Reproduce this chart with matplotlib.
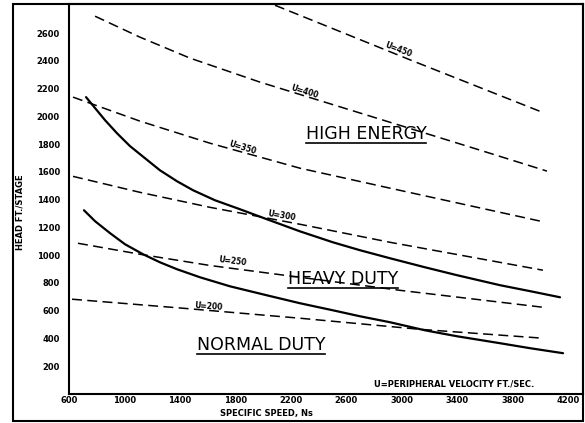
import matplotlib
matplotlib.use("Agg")
import matplotlib.pyplot as plt
from matplotlib.patches import Rectangle
from matplotlib.lines import Line2D

plt.rcParams['font.family'] = ['DejaVu Sans']

# ---- data ----
heavy_x = [723, 788, 860, 946, 1040, 1148, 1256, 1379, 1495, 1653, 1834, 2028,
           2266, 2504, 2699, 2916, 3168, 3399, 3709, 3926, 4142]
heavy_y = [2139, 2060, 1973, 1879, 1786, 1699, 1612, 1533, 1468, 1396, 1331, 1259,
           1172, 1093, 1036, 978, 913, 856, 784, 741, 697]

normal_x = [708, 788, 896, 1004, 1134, 1256, 1379, 1545, 1761, 2028, 2266, 2504,
            2699, 2916, 3168, 3399, 3709, 3926, 4164]
normal_y = [1324, 1245, 1159, 1079, 1007, 949, 899, 841, 776, 711, 654, 603,
            560, 517, 459, 416, 366, 330, 294]

u450_x = [2086, 3067, 4012]
u450_y = [2801, 2405, 2031]

u400_x = [788, 1112, 1473, 1978, 2844, 3565, 4048]
u400_y = [2722, 2571, 2420, 2247, 1980, 1757, 1606]

u350_x = [629, 1112, 1617, 2266, 2916, 4034]
u350_y = [2139, 1966, 1807, 1627, 1483, 1238]

u300_x = [629, 1112, 1617, 2266, 2916, 4019]
u300_y = [1568, 1453, 1345, 1223, 1093, 892]

u250_x = [665, 1112, 1617, 2266, 2988, 4019]
u250_y = [1086, 1007, 926, 841, 747, 625]

u200_x = [622, 1422, 2266, 3132, 4019]
u200_y = [683, 618, 546, 466, 402]

u_labels = ["U=450", "U=400", "U=350", "U=300", "U=250", "U=200"]
u_label_x = [2973, 2302, 1848, 2137, 1776, 1603]
u_label_y = [2478, 2175, 1778, 1287, 955, 631]
u_label_rot = [-21, -17, -17, -9, -7, -4]

region_labels = ["HIGH ENERGY", "HEAVY DUTY", "NORMAL DUTY"]
region_x = [2743, 2577, 1985]
region_y = [1872, 827, 352]

x_ticks = [600, 1000, 1400, 1800, 2200, 2600, 3000, 3400, 3800, 4200]
y_ticks = [200, 400, 600, 800, 1000, 1200, 1400, 1600, 1800, 2000, 2200, 2400, 2600]

# ---- figure ----
W, H = 585, 423
fig = plt.figure(figsize=(W / 100, H / 100), dpi=100)
ax = fig.add_axes([69 / W, (H - 394) / H, (583 - 69) / W, (394 - 4) / H])

ax.set_xlim(600, 4308)
ax.set_ylim(0, 2810)

for s in ax.spines.values():
    s.set_linewidth(1.5)
    s.set_color('black')

ax.set_xticks(x_ticks)
ax.set_yticks(y_ticks)
ax.set_xticklabels([str(v) for v in x_ticks], fontsize=6, fontweight='bold')
ax.set_yticklabels([str(v) for v in y_ticks], fontsize=6, fontweight='bold')
ax.tick_params(axis='x', length=0, pad=1.5)
ax.tick_params(axis='y', length=0, pad=6.5)

# solid boundary curves
ax.plot(heavy_x, heavy_y, color='black', lw=1.6, solid_capstyle='round',
        solid_joinstyle='round')
ax.plot(normal_x, normal_y, color='black', lw=1.6, solid_capstyle='round',
        solid_joinstyle='round')

# dashed constant peripheral velocity lines
for xs, ys in [(u450_x, u450_y), (u400_x, u400_y), (u350_x, u350_y),
               (u300_x, u300_y), (u250_x, u250_y), (u200_x, u200_y)]:
    ax.plot(xs, ys, color='black', lw=1.1, linestyle=(0, (6.5, 3.5)))

for lab, lx, ly, rot in zip(u_labels, u_label_x, u_label_y, u_label_rot):
    ax.text(lx, ly, lab, fontsize=5.5, fontweight='bold', rotation=rot,
            rotation_mode='anchor', ha='center', va='center')

region_texts = []
for lab, lx, ly in zip(region_labels, region_x, region_y):
    t = ax.text(lx, ly, lab, fontsize=12.5, ha='center', va='center')
    region_texts.append(t)

ax.text(0.749, 0.025, "U=PERIPHERAL VELOCITY FT./SEC.", transform=ax.transAxes,
        fontsize=6, fontweight='bold', ha='center', va='center')

fig.text(266 / W, 1 - 413 / H, "SPECIFIC SPEED, Ns", fontsize=6, fontweight='bold',
         ha='center', va='center')
fig.text(20 / W, 1 - 212 / H, "HEAD FT./STAGE", fontsize=6, fontweight='bold',
         ha='center', va='center', rotation=90)

# outer frame
fig.patches.append(Rectangle((13 / W, (H - 421) / H), (583 - 13) / W, (421 - 4) / H,
                             transform=fig.transFigure, fill=False, lw=1.5,
                             edgecolor='black'))

# underline region labels
fig.canvas.draw()
renderer = fig.canvas.get_renderer()
for t in region_texts:
    bb = t.get_window_extent(renderer)
    yline = bb.y0 + 0.5
    fig.add_artist(Line2D([bb.x0 / W, bb.x1 / W],
                          [yline / H, yline / H], transform=fig.transFigure,
                          color='black', lw=1.2))

fig.savefig("out.png", dpi=100)
